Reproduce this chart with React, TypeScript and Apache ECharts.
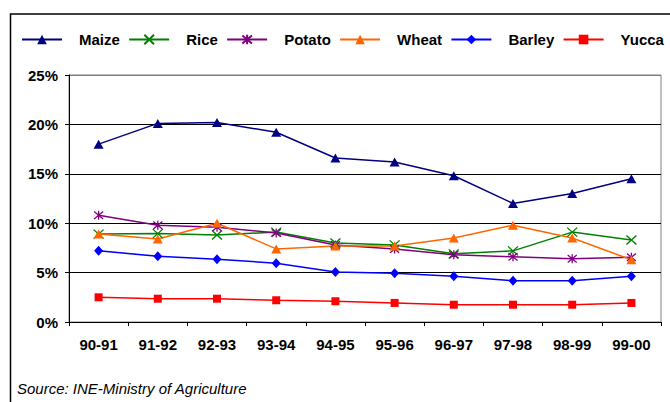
import React, { useEffect, useRef } from "react";
import * as echarts from "echarts";

const categories = ["90-91", "91-92", "92-93", "93-94", "94-95", "95-96", "96-97", "97-98", "98-99", "99-00"];
const maize = [18.0, 20.1, 20.2, 19.2, 16.6, 16.2, 14.8, 12.0, 13.0, 14.5];
const rice = [8.9, 8.95, 8.8, 9.1, 8.0, 7.8, 6.9, 7.2, 9.1, 8.3];
const potato = [10.8, 9.8, 9.6, 9.0, 7.8, 7.4, 6.8, 6.6, 6.4, 6.55];
const wheat = [8.9, 8.4, 10.0, 7.4, 7.7, 7.7, 8.5, 9.8, 8.5, 6.3];
const barley = [7.2, 6.65, 6.35, 5.95, 5.07, 4.93, 4.63, 4.18, 4.18, 4.63];
const yucca = [2.5, 2.36, 2.36, 2.2, 2.1, 1.93, 1.75, 1.75, 1.75, 1.93];
const yTicks = [0, 5, 10, 15, 20, 25];
const sourceText = "Source: INE-Ministry of Agriculture";

const FONT = "'Liberation Sans', Arial, sans-serif";
const X_PATH = "path://M0,0L10,10M10,0L0,10";
const STAR_PATH = "path://M0,0L10,10M10,0L0,10M5,-1L5,11";

export default function App() {
  const ref = useRef<HTMLDivElement>(null);
  useEffect(() => {
    if (!ref.current) return;
    const chart = echarts.init(ref.current, undefined, { renderer: "svg" });
    const mk = (name: string, data: number[], color: string, symbol: string, size: any, stroke?: boolean) => ({
      name,
      type: "line",
      data,
      symbol,
      symbolSize: size,
      symbolKeepAspect: false,
      lineStyle: { color, width: 1.5 },
      itemStyle: stroke
        ? { color: "none", borderColor: color, borderWidth: 1.3 }
        : { color, borderWidth: 0 },
      emphasis: { disabled: true },
    });
    chart.setOption({
      animation: false,
      backgroundColor: "#fff",
      textStyle: { fontFamily: FONT },
      legend: {
        left: 21,
        top: 32,
        padding: 0,
        itemWidth: 40,
        itemHeight: 12,
        itemGap: 8.3,
        selectedMode: false,
        textStyle: {
          fontFamily: FONT,
          fontSize: 15,
          fontWeight: "bold",
          color: "#000",
          padding: [0, 0, 0, 12],
        },
        data: ["Maize", "Rice", "Potato", "Wheat", "Barley", "Yucca"],
      },
      grid: {
        left: 69,
        right: 9,
        top: 75,
        bottom: 80,
        show: true,
        borderColor: "#808080",
        borderWidth: 1,
        backgroundColor: "transparent",
      },
      xAxis: {
        type: "category",
        data: categories,
        boundaryGap: true,
        axisLine: { lineStyle: { color: "#000", width: 1 } },
        axisTick: { show: true, length: 4, lineStyle: { color: "#000" } },
        axisLabel: {
          fontFamily: FONT,
          fontSize: 15,
          fontWeight: "bold",
          color: "#000",
          margin: 15,
        },
      },
      yAxis: {
        type: "value",
        min: yTicks[0],
        max: yTicks[yTicks.length - 1],
        interval: 5,
        axisLine: { show: true, lineStyle: { color: "#000", width: 1 } },
        axisTick: { show: true, length: 4, lineStyle: { color: "#000" } },
        axisLabel: {
          fontFamily: FONT,
          fontSize: 15,
          fontWeight: "bold",
          color: "#000",
          margin: 11,
          formatter: "{value}%",
        },
        splitLine: {
          show: true,
          lineStyle: { color: ["#000", "#000", "#000", "#000", "#000", "#808080"], width: 1 },
        },
      },
      series: [
        mk("Maize", maize, "#000080", "triangle", [10, 9]),
        mk("Rice", rice, "#008000", X_PATH, [10, 9], true),
        mk("Potato", potato, "#800080", STAR_PATH, [9, 9], true),
        mk("Wheat", wheat, "#FF6600", "triangle", [10, 9]),
        mk("Barley", barley, "#0000FF", "diamond", [9, 10]),
        mk("Yucca", yucca, "#FF0000", "rect", [8, 8]),
      ],
      graphic: [
        {
          type: "rect",
          shape: { x: 10.5, y: 14, width: 700, height: 500 },
          style: { fill: "none", stroke: "#000", lineWidth: 1.5 },
          silent: true,
          z: -1,
        },
        {
          type: "text",
          left: 17,
          top: 381,
          style: {
            text: sourceText,
            fontFamily: FONT,
            fontSize: 15,
            fontStyle: "italic",
            fill: "#000",
          },
        },
      ],
    });
    return () => chart.dispose();
  }, []);
  return <div ref={ref} style={{ width: 670, height: 402, position: "absolute", left: 0, top: 0 }} />;
}
